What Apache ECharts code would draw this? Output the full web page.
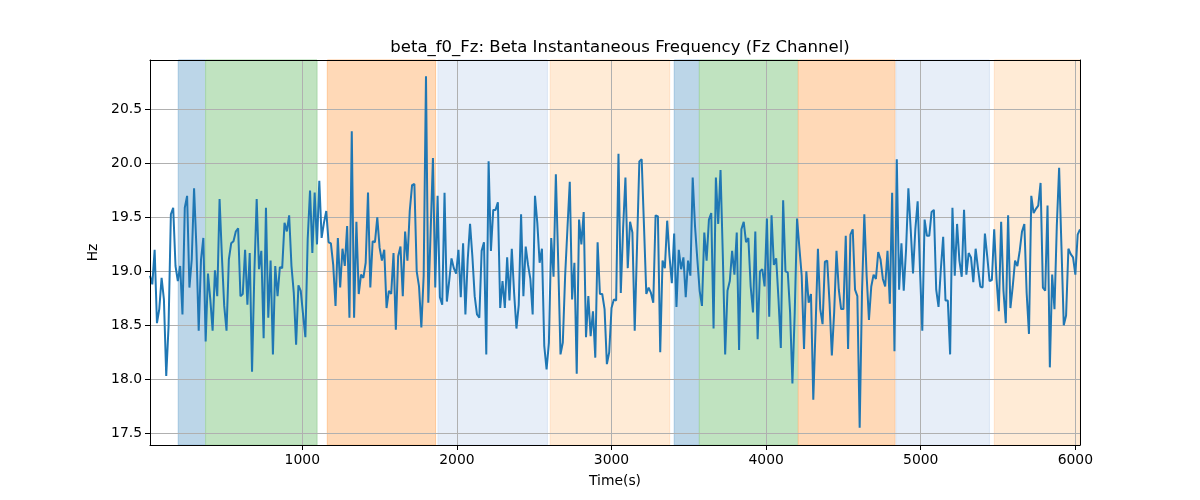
<!DOCTYPE html>
<html><head><meta charset="utf-8">
<script src="https://cdn.jsdelivr.net/npm/echarts@6/dist/echarts.min.js"></script>
<style>html,body{margin:0;padding:0;background:#fff}#c{width:1200px;height:500px}</style>
</head><body><div id="c"></div>
<script>
const chartTitle = 'beta_f0_Fz: Beta Instantaneous Frequency (Fz Channel)';
const xLabel = 'Time(s)';
const yLabel = 'Hz';
const startTime = 15;
const timeStep = 15;
const hzValues = [
18.96, 18.88, 19.20, 18.52, 18.65, 18.94, 18.74, 18.03, 18.49, 19.53,
19.59, 19.05, 18.91, 19.05, 18.60, 19.59, 19.70, 18.85, 19.11, 19.77,
19.23, 18.45, 19.11, 19.31, 18.35, 18.98, 18.74, 18.45, 19.01, 18.77,
19.67, 19.14, 18.68, 18.45, 19.11, 19.26, 19.28, 19.37, 19.40, 18.77,
18.79, 19.20, 18.69, 19.17, 18.07, 18.99, 19.67, 19.02, 19.19, 18.38,
19.59, 18.57, 19.10, 18.23, 19.05, 18.77, 19.04, 19.03, 19.45, 19.37,
19.52, 19.05, 18.80, 18.32, 18.87, 18.82,
18.60, 18.39, 19.30, 19.75, 19.17, 19.73, 19.25, 19.84, 19.31, 19.45,
19.56, 19.27, 19.26, 19.06, 18.68, 19.31, 18.85, 19.21, 19.05, 19.42,
18.57, 20.30, 18.57, 19.46, 18.79, 18.97, 18.94, 19.08, 19.73, 18.85,
19.28, 19.27, 19.50, 19.22, 19.10, 19.20, 18.66, 18.82, 18.79, 19.17,
18.46, 19.14, 19.23, 18.77, 19.37, 19.10, 19.56, 19.80, 19.81, 19.00,
18.86, 18.48, 18.96, 20.81, 18.71, 19.36, 20.05, 18.85, 19.70, 18.76,
18.69, 19.73, 18.72, 18.91, 19.12, 19.03, 18.98,
19.20, 18.76, 19.26, 18.60, 19.11, 19.44, 19.14, 18.77, 18.60, 18.57,
19.19, 19.27, 18.23, 20.02, 19.19, 19.57, 19.57, 19.64, 18.66, 18.91,
18.66, 19.13, 18.73, 19.21, 18.80, 18.47, 18.69, 19.53, 18.77, 19.23,
19.06, 18.93, 18.60, 19.70, 19.45, 19.08, 19.21, 18.31, 18.09, 18.34,
19.31, 18.95, 19.90, 19.10, 18.23, 18.34, 18.96, 19.40, 19.83, 18.74,
19.08, 18.05, 19.48, 19.25, 19.55, 18.39, 18.77, 18.40, 18.63, 18.20,
19.27, 18.79, 18.79, 18.65, 18.14,
18.25, 18.66, 18.74, 18.73, 20.09, 18.80, 19.40, 19.87, 19.03, 19.46,
19.36, 18.45, 19.23, 20.02, 20.04, 19.42, 18.79, 18.85, 18.80, 18.71,
19.52, 19.51, 18.25, 19.10, 19.03, 19.47, 19.14, 18.89, 19.35, 18.67,
19.20, 19.02, 19.13, 18.76, 19.10, 18.96, 19.87, 19.42, 19.11, 18.82,
18.68, 19.36, 19.10, 19.48, 19.54, 18.47, 19.87, 19.44, 19.94, 19.14,
18.23, 18.82, 18.91, 19.19, 18.97, 19.36, 18.27, 19.39, 19.46, 19.27,
19.31, 18.86, 18.62, 19.37, 18.37, 19.00, 19.02,
18.86, 19.49, 18.58, 19.52, 19.06, 19.12, 18.74, 18.29, 19.66, 19.00,
18.99, 18.62, 17.96, 18.62, 19.49, 19.22, 18.96, 18.28, 19.00, 18.71,
18.79, 17.81, 18.49, 19.21, 18.65, 18.51, 19.09, 19.10, 18.71, 18.22,
18.62, 19.19, 18.83, 18.65, 18.65, 19.33, 18.28, 19.34, 19.39, 18.83,
18.77, 17.55, 18.80, 19.53, 18.96, 18.55, 18.86, 18.97, 18.93, 19.18,
19.11, 18.93, 18.86, 19.19, 18.70, 19.73, 18.26, 20.04, 18.83, 19.26,
18.82, 19.20, 19.77, 19.39, 18.98, 19.39, 19.65,
19.02, 18.45, 19.48, 19.33, 19.33, 19.55, 19.57, 18.83, 18.67, 19.02,
19.32, 18.73, 18.73, 18.23, 19.59, 18.96, 19.44, 19.10, 18.95, 19.57,
18.97, 19.17, 19.13, 18.90, 19.21, 19.03, 18.86, 18.85, 19.35, 19.14,
18.91, 18.92, 19.39, 18.93, 18.63, 19.46, 18.82, 18.52, 19.52, 18.66,
18.86, 19.10, 19.05, 19.19, 19.37, 19.44, 18.80, 18.42, 19.70, 19.54,
19.58, 19.61, 19.82, 18.85, 18.82, 19.61, 18.11, 18.97, 18.65, 19.42,
19.96, 19.23, 18.50, 18.59, 19.21, 19.16, 19.13, 18.97, 19.34, 19.39
];
const xTicks = [1000, 2000, 3000, 4000, 5000, 6000];
const yTicks = [17.5, 18.0, 18.5, 19.0, 19.5, 20.0, 20.5];
const bandStarts = [198, 375, 1162, 1878, 2604, 3406, 3568, 4208, 4840, 5476];
const bandEnds   = [375, 1095, 1862, 2585, 3376, 3568, 4208, 4834, 5444, 6030];
const bandKinds  = ['blue', 'green', 'orange', 'lightblue', 'lightorange',
                    'blue', 'green', 'orange', 'lightblue', 'lightorange'];

const bandFill = {blue:'#bcd6e8', green:'#c0e3c0', orange:'#ffd9b7', lightblue:'#e7eef8', lightorange:'#ffebd6'};
const bandEdge = {blue:'#9fc3de', green:'#a6d6a6', orange:'#ffc796', lightblue:'#dae5f4', lightorange:'#ffe0c4'};

const times = hzValues.map((_, i) => startTime + i * timeStep);
const lineData = hzValues.map((v, i) => [times[i], v]);
const areas = bandStarts.map((s, i) => [
  {xAxis: s, itemStyle: {color: bandFill[bandKinds[i]], borderColor: bandEdge[bandKinds[i]], borderWidth: 1}},
  {xAxis: bandEnds[i]}
]);
const gridMarks = xTicks.map(v => ({xAxis: v})).concat(yTicks.map(v => ({yAxis: v})));

const font = 'DejaVu Sans';
const chart = echarts.init(document.getElementById('c'), null, {renderer: 'canvas'});
chart.setOption({
  animation: false,
  backgroundColor: '#fff',
  title: {
    text: chartTitle, left: 615, top: 34, textAlign: 'center',
    textStyle: {fontFamily: font, fontSize: 16.5, fontWeight: 'normal', color: '#000'}
  },
  grid: {left: 150, right: 120, top: 60, bottom: 55, show: false},
  xAxis: [{
    type: 'value', min: times[0], max: times[times.length - 1], z: 10,
    name: xLabel, nameLocation: 'middle', nameGap: 29,
    nameTextStyle: {fontFamily: font, fontSize: 13.9, color: '#000'},
    axisLine: {show: true, onZero: false, lineStyle: {color: '#000', width: 1}},
    axisTick: {show: true, customValues: xTicks, length: 5, lineStyle: {color: '#000', width: 1}},
    axisLabel: {customValues: xTicks, color: '#000', fontFamily: font, fontSize: 13.9, margin: 8,
      formatter: v => String(v)},
    splitLine: {show: false}
  }, {
    type: 'value', position: 'top', min: times[0], max: times[times.length - 1], z: 10,
    axisLine: {show: true, onZero: false, lineStyle: {color: '#000', width: 1}},
    axisTick: {show: false}, axisLabel: {show: false}, splitLine: {show: false}
  }],
  yAxis: [{
    type: 'value', min: 17.39, max: 20.96, z: 10,
    name: yLabel, nameLocation: 'middle', nameGap: 47, nameRotate: 90,
    nameTextStyle: {fontFamily: font, fontSize: 13.9, color: '#000'},
    axisLine: {show: true, onZero: false, lineStyle: {color: '#000', width: 1}},
    axisTick: {show: true, customValues: yTicks, length: 5, lineStyle: {color: '#000', width: 1}},
    axisLabel: {customValues: yTicks, color: '#000', fontFamily: font, fontSize: 13.9, margin: 8,
      formatter: v => v.toFixed(1)},
    splitLine: {show: false}
  }, {
    type: 'value', position: 'right', min: 17.39, max: 20.96, z: 10,
    axisLine: {show: true, onZero: false, lineStyle: {color: '#000', width: 1}},
    axisTick: {show: false}, axisLabel: {show: false}, splitLine: {show: false}
  }],
  series: [
    {type: 'line', data: [], silent: true, z: 1,
     markArea: {silent: true, z: 1, data: areas}},
    {type: 'line', data: [], silent: true, z: 2,
     markLine: {silent: true, z: 2, symbol: 'none', label: {show: false},
       lineStyle: {color: '#b0b0b0', width: 1, type: 'solid'}, data: gridMarks}},
    {type: 'line', data: lineData, showSymbol: false, symbol: 'none', z: 3,
     lineStyle: {color: '#1f77b4', width: 2}, itemStyle: {color: '#1f77b4'}}
  ]
});
</script>
</body></html>
